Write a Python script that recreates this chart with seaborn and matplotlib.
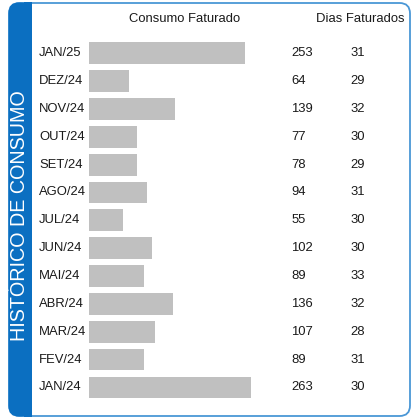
import matplotlib
matplotlib.use("Agg")
import matplotlib.pyplot as plt
import matplotlib.transforms as mtransforms
from matplotlib.patches import FancyBboxPatch, Rectangle
import seaborn as sns
import pandas as pd

months = ["JAN/25", "DEZ/24", "NOV/24", "OUT/24", "SET/24", "AGO/24", "JUL/24",
          "JUN/24", "MAI/24", "ABR/24", "MAR/24", "FEV/24", "JAN/24"]
consumo = [253, 64, 139, 77, 78, 94, 55, 102, 89, 136, 107, 89, 263]
dias = [31, 29, 32, 30, 29, 31, 30, 30, 33, 32, 28, 31, 30]
title_side = "HISTÓRICO DE CONSUMO"
header_consumo = "Consumo Faturado"
header_dias = "Dias Faturados"

sns.set_theme(style="white")
plt.rcParams["font.family"] = ["Liberation Sans", "DejaVu Sans"]

W, H = 417, 419
fig = plt.figure(figsize=(W / 100, H / 100), dpi=100)
fig.patch.set_facecolor("white")

def fx(px):
    return px / W

def fy(py):
    return (H - py) / H

blue = "#0b6fc1"
# outer rounded border
fig.patches.append(FancyBboxPatch((fx(9), fy(416)), fx(410) - fx(9), fy(3) - fy(416),
                                  boxstyle="round,pad=0,rounding_size=0.025",
                                  transform=fig.transFigure, facecolor="none",
                                  edgecolor="#4a97d6", linewidth=1.3, zorder=0))
# blue side band
fig.patches.append(FancyBboxPatch((fx(8.5), fy(416.5)), fx(32) - fx(8.5), fy(2.5) - fy(416.5),
                                  boxstyle="round,pad=0,rounding_size=0.025",
                                  transform=fig.transFigure, facecolor=blue,
                                  edgecolor="none", zorder=1))
fig.patches.append(Rectangle((fx(24), fy(416.5)), fx(32) - fx(24), fy(2.5) - fy(416.5),
                             transform=fig.transFigure, facecolor=blue,
                             edgecolor="none", zorder=1))
fig.text(fx(20), fy(215.5), title_side, rotation=90, color="white", fontsize=14.2,
         ha="center", va="center", zorder=2)

# bar axes
left_px, right_px = 89.3, 405.0
top_px, bot_px = 39.3, 401.4
ax = fig.add_axes([fx(left_px), fy(bot_px), fx(right_px) - fx(left_px), fy(top_px) - fy(bot_px)])
ax.set_facecolor("none")
ax.set_zorder(5)

df = pd.DataFrame({"mes": months, "consumo": consumo, "dias": dias})
sns.barplot(data=df, x="consumo", y="mes", order=months, orient="h", color="#c0c0c0",
            saturation=1, width=0.78, ax=ax, edgecolor="none")

ax.set_xlim(0, (right_px - left_px) / 0.6154)
ax.set_ylim(len(months) - 0.5, -0.5)
ax.set_xlabel("")
ax.set_ylabel("")
ax.set_xticks([])
ax.set_yticks([])
for s in ax.spines.values():
    s.set_visible(False)

txt_color = "#1a1a1a"
fs = 9.4
trans = mtransforms.blended_transform_factory(fig.transFigure, ax.transData)
for i, (m, c, d) in enumerate(zip(months, consumo, dias)):
    ax.text(fx(39), i, m, transform=trans, ha="left", va="center", fontsize=fs,
            color=txt_color, clip_on=False)
    ax.text(fx(291.5), i, str(c), transform=trans, ha="left", va="center", fontsize=fs,
            color=txt_color, clip_on=False)
    ax.text(fx(350), i, str(d), transform=trans, ha="left", va="center", fontsize=fs,
            color=txt_color, clip_on=False)

fig.text(fx(185), fy(19.5), header_consumo, ha="center", va="center", fontsize=fs, color=txt_color)
fig.text(fx(360.4), fy(19.5), header_dias, ha="center", va="center", fontsize=fs, color=txt_color)

fig.savefig("out.png", dpi=100, facecolor="white")
